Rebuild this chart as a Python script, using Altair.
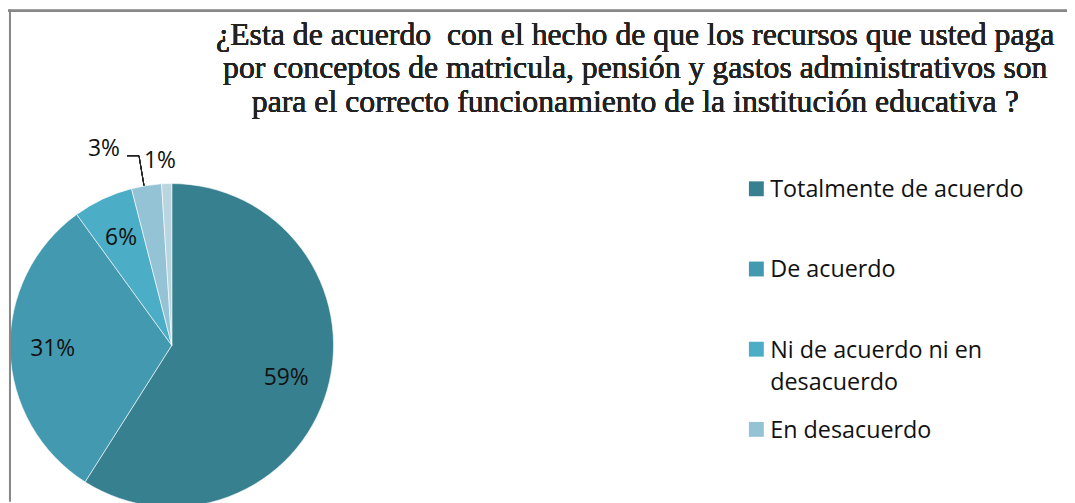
import altair as alt
import pandas as pd

categories = ["Totalmente de acuerdo", "De acuerdo", "Ni de acuerdo ni en desacuerdo",
              "En desacuerdo", "Totalmente en desacuerdo"]
values = [59, 31, 6, 3, 1]
labels = ["59%", "31%", "6%", "3%", "1%"]
colors = ["#37808F", "#4399AF", "#4BADC6", "#93C3D4", "#B8D5E0"]
title_lines = ["¿Esta de acuerdo\u00a0 con el hecho de que los recursos que usted paga",
               "por conceptos de matricula, pensión y gastos administrativos son",
               "para el correcto funcionamiento de la institución educativa ?"]

df = pd.DataFrame({"cat": categories, "value": values, "label": labels,
                   "idx": list(range(len(categories)))})

W, H = 1067, 495
CX, CY, R = 165, 338, 163
FONT = "Open Sans"

base = alt.Chart(df)
color = alt.Color("cat:N", scale=alt.Scale(domain=categories, range=colors), legend=None)
theta = alt.Theta("value:Q", stack=True)
order = alt.Order("idx:Q")

pie = base.mark_arc(outerRadius=R, stroke="white", strokeWidth=0.6).encode(
    theta=theta, color=color, order=order, x=alt.value(CX), y=alt.value(CY))

inner = base.transform_calculate(t="datum.idx < 3 ? datum.label : ''").mark_text(
    radius=120, fontSize=23, font=FONT, color="#111").encode(
    theta=theta, order=order, text="t:N", x=alt.value(CX), y=alt.value(CY))

out3 = base.transform_calculate(t="datum.idx == 3 ? datum.label : ''").mark_text(
    radius=200, fontSize=23, font=FONT, color="#111", dx=-37).encode(
    theta=theta, order=order, text="t:N", x=alt.value(CX), y=alt.value(CY))

out1 = base.transform_calculate(t="datum.idx == 4 ? datum.label : ''").mark_text(
    radius=186, fontSize=23, font=FONT, color="#111", dx=-6).encode(
    theta=theta, order=order, text="t:N", x=alt.value(CX), y=alt.value(CY))

lead1 = alt.Chart(df).mark_rule(color="#222", strokeWidth=1).encode(
    x=alt.value(120), x2=alt.value(132), y=alt.value(147), y2=alt.value(147))
lead2 = alt.Chart(df).mark_rule(color="#222", strokeWidth=1).encode(
    x=alt.value(132), x2=alt.value(137), y=alt.value(147), y2=alt.value(177))

legend_base = base.transform_filter("datum.idx < 4")
ypos = alt.Y("cat:N", scale=alt.Scale(type="point", domain=categories[:4], range=[180.3, 422.7], padding=0),
             axis=None)
leg_sym = legend_base.mark_square(size=225, opacity=1).encode(
    x=alt.value(754), y=ypos, color=color)
leg_txt = legend_base.transform_calculate(
    t="datum.cat == 'Ni de acuerdo ni en desacuerdo' ? ['Ni de acuerdo ni en', 'desacuerdo'] : datum.cat"
).mark_text(align="left", baseline="alphabetic", dy=8.5, fontSize=23.5, font=FONT,
            color="#111", lineHeight=33).encode(
    x=alt.value(768), y=ypos, text="t:N")

title = alt.Chart(df).mark_text(align="center", baseline="alphabetic", fontSize=32, fontWeight=400,
                                font="Times New Roman", color="#222", lineHeight=34).encode(
    x=alt.value(632), y=alt.value(35), text=alt.value(title_lines))

bl = alt.Chart(df).mark_rule(color="#898989", strokeWidth=2).encode(
    x=alt.value(2), y=alt.value(0), y2=alt.value(H))
bt = alt.Chart(df).mark_rule(color="#898989", strokeWidth=2).encode(
    x=alt.value(0), x2=alt.value(W), y=alt.value(1))

chart = alt.layer(pie, inner, out3, out1, lead1, lead2, leg_sym, leg_txt, title, bl, bt).properties(
    width=W, height=H, autosize=alt.AutoSizeParams(type="none"), padding=0
).configure_view(stroke=None).resolve_scale(y="independent")

chart.save("out.html", embed_options={"renderer": "svg", "actions": False})
